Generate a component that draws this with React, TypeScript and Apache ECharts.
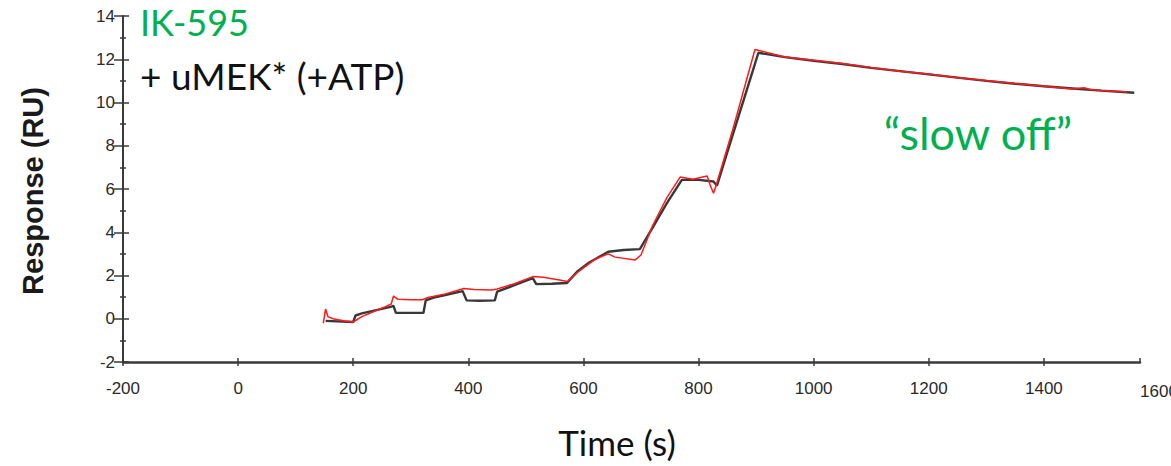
import React, { useEffect, useRef } from "react";
import * as echarts from "echarts";

// Time (s) / Response (RU) pairs
const fittedCurve: [number, number][] = [
  [152, -0.1], [200, -0.15], [204, 0.15], [215, 0.25], [240, 0.4], [265, 0.55], [270, 0.6],
  [274, 0.28], [300, 0.27], [322, 0.27], [326, 0.85], [340, 0.98], [360, 1.1], [390, 1.28],
  [397, 0.85], [420, 0.83], [446, 0.85], [450, 1.25], [480, 1.55], [512, 1.88], [518, 1.6],
  [545, 1.62], [571, 1.65], [590, 2.2], [610, 2.6], [643, 3.1], [670, 3.18], [698, 3.22],
  [720, 4.2], [745, 5.35], [771, 6.42], [800, 6.42], [826, 6.35], [832, 6.15], [850, 7.7],
  [870, 9.4], [890, 11.1], [904, 12.3], [950, 12.1], [1000, 11.93], [1050, 11.78],
  [1100, 11.6], [1150, 11.45], [1200, 11.3], [1250, 11.15], [1300, 11.0], [1350, 10.87],
  [1400, 10.75], [1450, 10.65], [1500, 10.55], [1557, 10.45],
];

const measuredCurve: [number, number][] = [
  [148, -0.2], [152, 0.45], [156, 0.1], [165, 0.0], [185, -0.1], [200, -0.15], [215, 0.1],
  [240, 0.38], [255, 0.55], [266, 0.68], [270, 1.05], [278, 0.9], [300, 0.88], [320, 0.88],
  [330, 0.98], [360, 1.15], [392, 1.4], [410, 1.35], [440, 1.33], [450, 1.38], [480, 1.62],
  [512, 1.95], [530, 1.92], [556, 1.8], [572, 1.72], [590, 2.15], [620, 2.75], [643, 3.0],
  [655, 2.85], [690, 2.72], [700, 2.95], [720, 4.3], [745, 5.6], [768, 6.55], [790, 6.45],
  [815, 6.6], [820, 6.2], [826, 5.8], [832, 6.3], [860, 8.8], [898, 12.45], [950, 12.1],
  [1000, 11.95], [1050, 11.8], [1100, 11.62], [1150, 11.45], [1200, 11.32], [1250, 11.15],
  [1300, 11.02], [1350, 10.88], [1400, 10.75], [1450, 10.62], [1470, 10.68], [1480, 10.6],
  [1500, 10.55], [1545, 10.48],
];

const xMin = -200;
const xMax = 1567;
const xStep = 200;
const extraXTick = 1600;
const yMin = -2;
const yMax = 14;
const yStep = 2;

const titleLine1 = "IK-595";
const titleLine2 = "+ uMEK* (+ATP)";
const noteText = "\u201cslow off\u201d";
const xTitle = "Time (s)";
const yTitle = "Response (RU)";

const tickFont = "'Liberation Sans', Arial, sans-serif";
const green = "#00b050";

export default function App() {
  const ref = useRef<HTMLDivElement>(null);

  useEffect(() => {
    if (!ref.current) return;
    const chart = echarts.init(ref.current, undefined, { renderer: "svg" });
    const axisColor = "#3a3a3a";
    const labelStyle = {
      color: "#2a2a2a", fontFamily: tickFont, fontSize: 17,
      formatter: (v: number) => String(v),
    };

    chart.setOption({
      animation: false,
      backgroundColor: "#ffffff",
      grid: { left: 123, top: 16, width: 1017, height: 346, containLabel: false, outerBoundsMode: "none" },
      xAxis: [
        {
          type: "value", min: xMin, max: xMax, interval: xStep, position: "bottom",
          axisLine: { show: true, onZero: false, lineStyle: { color: axisColor, width: 2.5 } },
          axisTick: { show: true, length: 4, lineStyle: { color: axisColor, width: 1.5 } },
          axisLabel: { ...labelStyle, margin: 18, showMaxLabel: false },
          splitLine: { show: false },
        },
        {
          type: "value", min: xMin, max: xMax, interval: xStep, position: "bottom",
          axisLine: { show: false, onZero: false },
          axisTick: { show: true, inside: true, length: 4, lineStyle: { color: axisColor, width: 1.5 } },
          axisLabel: { show: false },
          splitLine: { show: false },
        },
      ],
      yAxis: [
        {
          type: "value", min: yMin, max: yMax, interval: yStep, position: "left",
          axisLine: { show: true, onZero: false, lineStyle: { color: axisColor, width: 2 } },
          axisTick: { show: true, length: 9, lineStyle: { color: axisColor, width: 1.5 } },
          minorTick: { show: true, splitNumber: 2, length: 3, lineStyle: { color: axisColor, width: 1.5 } },
          axisLabel: { ...labelStyle, margin: 8 },
          splitLine: { show: false },
          minorSplitLine: { show: false },
        },
        {
          type: "value", min: yMin, max: yMax, interval: yStep, position: "left",
          axisLine: { show: false, onZero: false },
          axisTick: { show: true, inside: true, length: 6, lineStyle: { color: axisColor, width: 1.5 } },
          minorTick: { show: true, splitNumber: 2, length: 3, lineStyle: { color: axisColor, width: 1.5 } },
          axisLabel: { show: false },
          splitLine: { show: false },
          minorSplitLine: { show: false },
        },
      ],
      series: [
        {
          type: "line", xAxisIndex: 0, yAxisIndex: 0, data: fittedCurve, showSymbol: false,
          symbol: "none", z: 2, lineStyle: { color: "#383838", width: 2.4 },
        },
        {
          type: "line", xAxisIndex: 0, yAxisIndex: 0, data: measuredCurve, showSymbol: false,
          symbol: "none", z: 3, lineStyle: { color: "#ff1a1a", width: 1.5 },
        },
      ],
    });

    const px1600 = chart.convertToPixel({ xAxisIndex: 0 }, extraXTick) as number;
    const pyBottom = chart.convertToPixel({ yAxisIndex: 0 }, yMin) as number;

    chart.setOption({
      graphic: [
        {
          type: "text", x: px1600, y: pyBottom + 21, style: {
            text: String(extraXTick), fill: "#2a2a2a", font: `17px ${tickFont}`,
            textAlign: "center", textVerticalAlign: "top",
          },
        },
        {
          type: "text", x: 140, y: 22, style: {
            text: titleLine1, fill: green, font: "36px Lato, 'Open Sans', sans-serif",
            textAlign: "left", textVerticalAlign: "middle",
          },
        },
        {
          type: "text", x: 140, y: 75, style: {
            text: titleLine2, fill: "#111111", font: "37px Lato, 'Open Sans', sans-serif",
            textAlign: "left", textVerticalAlign: "middle",
          },
        },
        {
          type: "text", x: 978, y: 133, style: {
            text: noteText, fill: green, font: "45px Lato, 'Open Sans', sans-serif",
            textAlign: "center", textVerticalAlign: "middle",
          },
        },
        {
          type: "text", x: 617, y: 442, style: {
            text: xTitle, fill: "#111111", font: "35px Lato, 'Open Sans', sans-serif",
            textAlign: "center", textVerticalAlign: "middle",
          },
        },
        {
          type: "text", x: 33, y: 191, rotation: Math.PI / 2, style: {
            text: yTitle, fill: "#1a1a1a", font: "bold 29px 'Liberation Sans', Arial, sans-serif",
            textAlign: "center", textVerticalAlign: "middle",
          },
        },
      ],
    });

    return () => chart.dispose();
  }, []);

  return (
    <div
      ref={ref}
      style={{ position: "fixed", left: 0, top: 0, width: 1171, height: 466, background: "#fff" }}
    />
  );
}
